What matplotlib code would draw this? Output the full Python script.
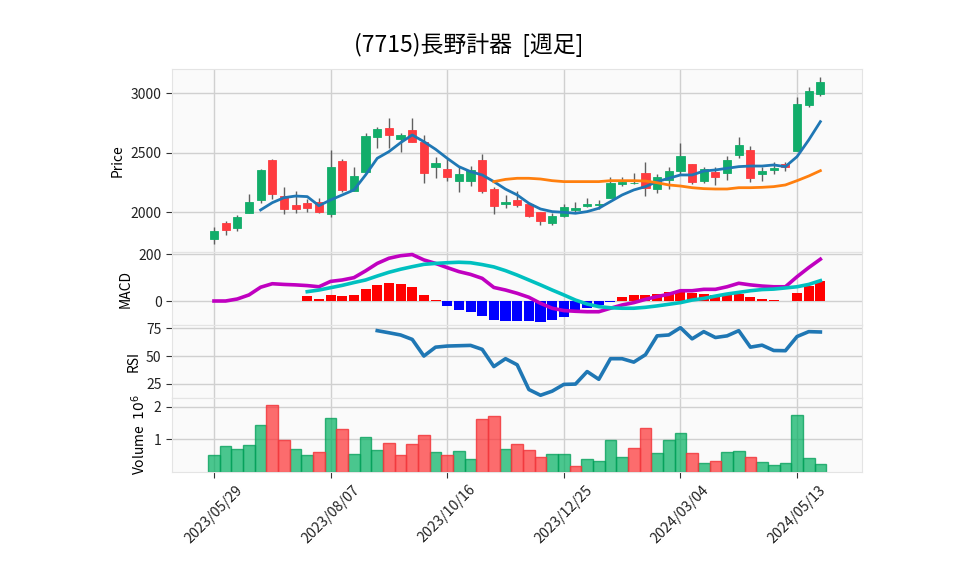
import numpy as np
import pandas as pd
import matplotlib
matplotlib.use("Agg")
import matplotlib.pyplot as plt

plt.rcParams['font.family'] = ['Noto Sans CJK JP', 'DejaVu Sans']

title = "(7715)長野計器  [週足]"
dates = pd.date_range('2023-05-29', periods=53, freq='W-MON')

opens = [1774, 1910, 1871, 1997, 2106, 2440, 2137, 2062, 2076, 2084,
         1986, 2431, 2182, 2342, 2636, 2708, 2613, 2692, 2588, 2384,
         2361, 2266, 2266, 2440, 2195, 2072, 2104, 2070, 2003, 1913,
         1972, 2022, 2053, 2059, 2118, 2241, 2244, 2328, 2199, 2272,
         2350, 2406, 2266, 2341, 2328, 2480, 2524, 2319, 2358, 2410,
         2518, 2902, 2997]
highs = [1874, 1924, 1980, 2151, 2367, 2445, 2210, 2182, 2112, 2118,
         2524, 2445, 2378, 2664, 2714, 2790, 2669, 2790, 2650, 2468,
         2450, 2386, 2390, 2490, 2216, 2146, 2182, 2075, 2005, 1992,
         2070, 2090, 2118, 2104, 2294, 2294, 2328, 2426, 2322, 2384,
         2580, 2406, 2380, 2377, 2470, 2633, 2560, 2377, 2425, 2426,
         2966, 3050, 3134]
lows = [1734, 1807, 1846, 1997, 2076, 2109, 1986, 1992, 2006, 1992,
        1964, 2171, 2182, 2342, 2538, 2538, 2510, 2594, 2244, 2290,
        2263, 2171, 2218, 2160, 1986, 2034, 2048, 1958, 1896, 1896,
        1964, 1992, 2042, 2025, 2118, 2221, 2238, 2137, 2165, 2193,
        2314, 2236, 2249, 2230, 2272, 2458, 2252, 2263, 2320, 2348,
        2518, 2882, 2977]
closes = [1845, 1848, 1958, 2084, 2356, 2157, 2025, 2031, 2039, 2006,
          2381, 2190, 2305, 2641, 2697, 2652, 2650, 2594, 2333, 2414,
          2300, 2319, 2355, 2182, 2050, 2087, 2062, 1972, 1930, 1969,
          2045, 2036, 2070, 2072, 2244, 2252, 2249, 2202, 2294, 2347,
          2470, 2252, 2364, 2300, 2440, 2566, 2286, 2345, 2370, 2378,
          2910, 3019, 3095]
volume_m = [0.53, 0.79, 0.70, 0.82, 1.43, 2.06, 0.97, 0.70, 0.53, 0.61,
            1.64, 1.33, 0.55, 1.06, 0.68, 0.88, 0.52, 0.86, 1.12, 0.62,
            0.52, 0.65, 0.39, 1.61, 1.70, 0.70, 0.85, 0.67, 0.48, 0.55,
            0.55, 0.18, 0.39, 0.34, 0.97, 0.48, 0.73, 1.36, 0.59, 0.97,
            1.19, 0.59, 0.28, 0.34, 0.61, 0.65, 0.46, 0.31, 0.22, 0.28,
            1.74, 0.42, 0.25]

nan = np.nan
ma5 = [nan, nan, nan, nan, 2020, 2081, 2123, 2137, 2132, 2056,
       2104, 2146, 2188, 2314, 2454, 2510, 2585, 2650, 2594, 2530,
       2454, 2384, 2342, 2314, 2258, 2195, 2146, 2076, 2028, 2006,
       2000, 1992, 2006, 2034, 2090, 2146, 2188, 2216, 2258, 2286,
       2314, 2314, 2347, 2356, 2370, 2384, 2389, 2389, 2398, 2384,
       2468, 2608, 2762]
ma25 = [nan] * 24 + [2258, 2277, 2286, 2286, 2280, 2266, 2258, 2258, 2258, 2258,
                     2266, 2266, 2266, 2263, 2249, 2230, 2221, 2207, 2199, 2196,
                     2196, 2207, 2207, 2210, 2216, 2230, 2266, 2305, 2350]
macd = [0, 0, 8.6, 26, 59, 74, 71, 69, 66, 61,
        84, 90, 100, 129, 161, 183, 194, 199, 176, 161,
        143, 126, 114, 97, 58, 47, 33, 16, -10, -31,
        -41, -44, -46, -46, -31, -17, -7, 7, 19, 29,
        44, 44, 50, 50, 61, 76, 69, 64, 61, 61,
        104, 143, 179]
signal = [nan] * 8 + [40, 47,
          57, 67, 79, 90, 107, 123, 136, 147, 157, 161,
          164, 166, 164, 156, 146, 130, 111, 90, 69, 47,
          26, 4, -13, -24, -29, -31, -31, -27, -21, -14,
          -7, 4, 11, 21, 30, 37, 44, 49, 51, 56,
          61, 71, 87]
hist = [nan] * 8 + [21, 9,
        26, 21, 26, 51, 69, 77, 73, 60, 26, 4,
        -20, -37, -46, -63, -80, -84, -84, -86, -89, -81,
        -67, -39, -31, -17, -4, 16, 26, 26, 30, 37,
        44, 36, 30, 26, 26, 30, 16, 9, 4, 1,
        36, 64, 86]
rsi = [nan] * 14 + [72.9, 71, 69, 65, 50, 58,
       59, 59.3, 59.6, 56, 40.5, 47.6, 42.1, 19.8, 14.6, 18.3,
       24.4, 24.7, 36, 29, 47.6, 47.6, 44.5, 51.2, 68.2, 69,
       75.6, 65.5, 72, 66.7, 68.2, 72.9, 58, 59.8, 55, 54.8,
       67.6, 72, 71.7]

tick_idx = [0, 10, 20, 30, 40, 50]

# ---- styling ----
UP = '#12ad6a'
DN = '#fe3b3f'
VUP_F = (0.0, 0.69, 0.376, 0.70)
VDN_F = (0.996, 0.19, 0.196, 0.70)
VUP_E = (0.0, 0.62, 0.34, 0.75)
VDN_E = (0.95, 0.22, 0.24, 0.85)
BG = '#fafafa'
GRID = '#d0d0d0'

fig = plt.figure(figsize=(9.58, 5.75), dpi=100)
L, W = 172 / 958, (862 - 172) / 958

def fy(top, bot):
    return [L, 1 - bot / 575, W, (bot - top) / 575]

ax1 = fig.add_axes(fy(69.3, 252.3))
ax2 = fig.add_axes(fy(252.3, 325.0), sharex=ax1)
ax3 = fig.add_axes(fy(325.0, 397.7), sharex=ax1)
ax4 = fig.add_axes(fy(397.7, 472.3), sharex=ax1)

x = np.arange(len(closes))
o = np.array(opens, float); c = np.array(closes, float)
h = np.array(highs, float); lo = np.array(lows, float)

for ax in (ax1, ax2, ax3, ax4):
    ax.set_facecolor(BG)
    ax.grid(True, color=GRID, lw=1.0)
    ax.set_axisbelow(True)
    for s in ax.spines.values():
        s.set_color('#e4e4e4')
        s.set_linewidth(0.8)
    ax.tick_params(axis='y', labelsize=10, length=4, width=0.8, color='#333333', labelcolor='#222222')

# candles
ax1.vlines(x, lo, h, color='#606060', lw=1.0, zorder=2)
up = c >= o
body_b = np.minimum(o, c)
body_h = np.maximum(np.abs(c - o), 4)
ax1.bar(x[up], body_h[up], bottom=body_b[up], width=0.7, color=UP, edgecolor=UP, lw=0.6, zorder=3)
ax1.bar(x[~up], body_h[~up], bottom=body_b[~up], width=0.7, color=DN, edgecolor=DN, lw=0.6, zorder=3)
ax1.plot(x, ma5, color='#1f77b4', lw=2.0, zorder=4)
ax1.plot(x, ma25, color='#ff7f0e', lw=2.0, zorder=4)
ax1.set_ylim(1664, 3202)
ax1.set_yticks([2000, 2500, 3000])
ax1.set_ylabel('Price', fontsize=10)

# MACD
hv = np.array(hist, float)
hcol = ['red' if v >= 0 else 'blue' for v in np.nan_to_num(hv)]
ax2.bar(x, np.nan_to_num(hv), width=0.86, color=hcol, zorder=2)
ax2.plot(x, macd, color='#c000c0', lw=2.6, zorder=3)
ax2.plot(x, signal, color='#00c0c0', lw=2.6, zorder=3)
ax2.set_ylim(-102.8, 208.6)
ax2.set_yticks([0, 200])
ax2.set_ylabel('MACD', fontsize=10)

# RSI
ax3.plot(x, rsi, color='#1f77b4', lw=2.6)
ax3.set_ylim(12.4, 78)
ax3.set_yticks([25, 50, 75])
ax3.set_ylabel('RSI', fontsize=10)

# Volume
vm = np.array(volume_m, float)
prev = np.concatenate([[c[0] - 1], c[:-1]])
vup = c >= prev
ax4.bar(x[vup], vm[vup], width=1.0, color=VUP_F, edgecolor=VUP_E, lw=1.0, zorder=2)
ax4.bar(x[~vup], vm[~vup], width=1.0, color=VDN_F, edgecolor=VDN_E, lw=1.0, zorder=2)
ax4.set_ylim(0, 2.27)
ax4.set_yticks([1, 2])
ax4.set_ylabel('Volume  $10^{6}$', fontsize=10)

ax1.set_xlim(-3.6, 55.57)
ax4.set_xticks(tick_idx)
ax4.set_xticklabels([dates[i].strftime('%Y/%m/%d') for i in tick_idx], rotation=45, ha='center', fontsize=10.3)
ax4.tick_params(axis='x', length=4, width=0.8, color='#333333', labelcolor='#222222')
for ax in (ax1, ax2, ax3):
    ax.tick_params(axis='x', which='both', length=0, labelbottom=False)

fig.text(468.5 / 958, 1 - 45 / 575, title, ha='center', va='center', fontsize=16.5)

fig.savefig('out.png', dpi=100)
